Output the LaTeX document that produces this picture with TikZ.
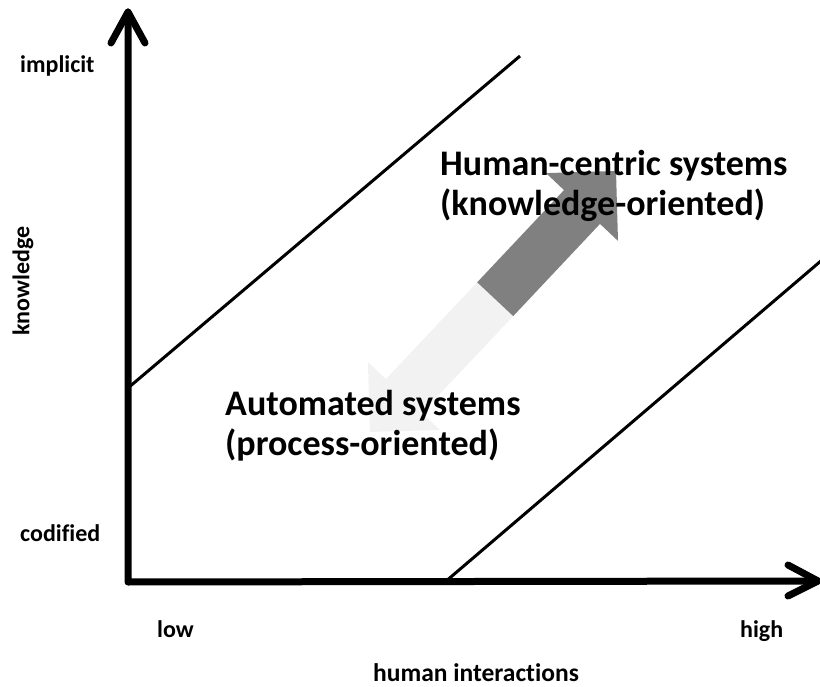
\documentclass[tikz,border=0pt]{standalone}
\usepackage{fontspec}
\setmainfont{Carlito}[Ligatures={NoCommon}]
\begin{document}
\begin{tikzpicture}[x=1pt,y=-1pt,
  axis/.style={line width=7pt,line cap=round,line join=round},
  diag/.style={line width=3pt},
  biglabel/.style={font=\fontsize{36}{40}\selectfont\bfseries,inner sep=0pt,anchor=base west},
  smalllabel/.style={font=\fontsize{24}{29}\selectfont\bfseries,inner sep=0pt},
  darkpart/.style={fill=black!50,draw=none},
  lightpart/.style={fill=black!5,draw=none}]
\useasboundingbox (0,0) rectangle (820,687);
% axes
\coordinate (O) at (128,582);
\coordinate (Ytip) at (128,12);
\coordinate (Xtip) at (818,581);
\coordinate (Yl) at (111,43);
\coordinate (Yr) at (145,43);
\coordinate (Xu) at (788,565);
\coordinate (Xd) at (788,596);
\draw[axis] (Ytip) -- (O) -- (Xtip);
\draw[axis] (Yl) -- (Ytip) -- (Yr);
\draw[axis] (Xu) -- (Xtip) -- (Xd);
% diagonal boundaries
\coordinate (U1) at (128,388);
\coordinate (U2) at (520,56);
\coordinate (L1) at (445,582);
\coordinate (L2) at (822,260);
\draw[diag] (U1) -- (U2);
\draw[diag] (L1) -- (L2);
% double block arrow
\fill[lightpart] (370,432) -- (439.9,429.9) -- (421.9,412.9) -- (513.2,316.1)
  -- (477.2,282.3) -- (385.9,379.1) -- (367.9,362.1) -- cycle;
\fill[darkpart] (477.2,282.3) -- (513.2,316.1) -- (600.0,223.9) -- (618.0,240.9)
  -- (616,171) -- (546.0,173.1) -- (564.0,190.1) -- cycle;
% region labels
\node[biglabel] (hc1) at (440,176) {Human-centric systems};
\node[biglabel] (hc2) at (440,216) {(knowledge-oriented)};
\node[biglabel] (as1) at (225,415) {Automated systems};
\node[biglabel] (as2) at (225,455) {(process-oriented)};
% axis labels
\node[smalllabel,anchor=base west] (impl) at (20,73) {implicit};
\node[smalllabel,anchor=base west] (codi) at (20,541) {codified};
\node[smalllabel,rotate=90] (know) at (23,281) {knowledge};
\node[smalllabel,anchor=base west] (low) at (157,637) {low};
\node[smalllabel,anchor=base west] (high) at (740,637) {high};
\node[smalllabel,anchor=base west,font=\fontsize{25.5}{30}\selectfont\bfseries] (hint) at (373,681) {human interactions};
\end{tikzpicture}
\end{document}
